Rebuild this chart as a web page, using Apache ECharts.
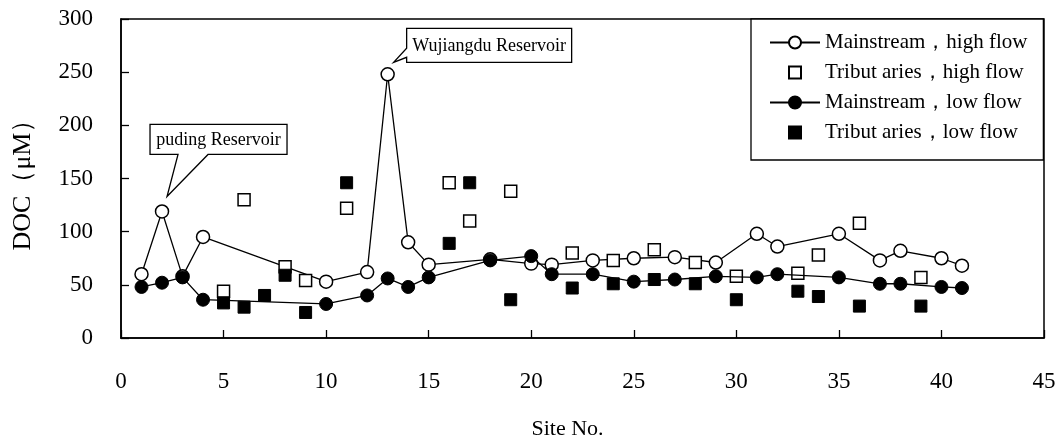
<!DOCTYPE html>
<html>
<head>
<meta charset="utf-8">
<script src="https://cdn.jsdelivr.net/npm/echarts@6/dist/echarts.min.js"></script>
<style>html,body{margin:0;padding:0;background:#fff}#c{width:1057px;height:438px}</style>
</head>
<body>
<div id="c"></div>
<script>
// ---- data ----
const mainSites = [1,2,3,4,10,12,13,14,15,18,20,21,23,25,27,29,31,32,35,37,38,40,41];
const mainHigh  = [60,119,58,95,53,62,248,90,69,74,70,69,73,75,76,71,98,86,98,73,82,75,68];
const mainLow   = [48,52,57,36,32,40,56,48,57,73,77,60,60,53,55,58,57,60,57,51,51,48,47];
const tribHighSites = [5,6,8,9,11,16,17,19,22,24,26,28,30,33,34,36,39];
const tribHigh      = [44,130,67,54,122,146,110,138,80,73,83,71,58,61,78,108,57];
const tribLowSites  = [5,6,7,8,9,11,16,17,19,22,24,26,28,30,33,34,36,39];
const tribLow       = [33,29,40,59,24,146,89,146,36,47,51,55,51,36,44,39,30,30];
const seriesNames = ['Mainstream，high flow','Tribut aries，high flow','Mainstream，low flow','Tribut aries，low flow'];
const callouts = [
  {text:'puding Reservoir', site:2, value:119},
  {text:'Wujiangdu Reservoir', site:13, value:248}
];
const xTitle = 'Site No.';
const yTitle = 'DOC（μM）';

const FONT = '"Liberation Serif", "Times New Roman", serif';
const pair = (xs, ys) => xs.map((x, i) => [x, ys[i]]);

const chart = echarts.init(document.getElementById('c'), null, {renderer:'canvas'});
const openStyle = {color:'#fff', borderColor:'#000', borderWidth:1.5};
const fillStyle = {color:'#000', borderColor:'#000', borderWidth:1};

chart.setOption({
  animation:false,
  backgroundColor:'#fff',
  grid:{left:121, right:13, top:19, bottom:100, show:true, borderColor:'#000', borderWidth:1.5,
        containLabel:false, outerBoundsMode:'none'},
  legend:{
    orient:'vertical', left:751, top:19,
    padding:[13,16,17,18],
    itemWidth:50, itemHeight:15, itemGap:9,
    borderColor:'#000', borderWidth:1.3, backgroundColor:'#fff',
    textStyle:{fontFamily:FONT, fontSize:21, color:'#000'},
    data:seriesNames
  },
  xAxis:{
    type:'value', min:0, max:45, interval:5,
    name:xTitle, nameLocation:'middle', nameGap:80,
    nameTextStyle:{fontFamily:FONT, fontSize:22, color:'#000', padding:[0,30,0,0]},
    axisLine:{lineStyle:{color:'#000', width:1.5}},
    axisTick:{inside:true, length:8, lineStyle:{color:'#000', width:1.3}},
    axisLabel:{fontFamily:FONT, fontSize:23, color:'#000', margin:32},
    splitLine:{show:false}
  },
  yAxis:{
    type:'value', min:0, max:300, interval:50,
    name:yTitle, nameLocation:'middle', nameGap:85, nameRotate:90,
    nameTextStyle:{fontFamily:FONT, fontSize:26, color:'#000'},
    axisLine:{lineStyle:{color:'#000', width:1.5}},
    axisTick:{inside:true, length:8, lineStyle:{color:'#000', width:1.3}},
    axisLabel:{fontFamily:FONT, fontSize:23, color:'#000', margin:28},
    splitLine:{show:false}
  },
  series:[
    {name:seriesNames[0], type:'line', data:pair(mainSites, mainHigh), symbol:'circle', symbolSize:13,
     itemStyle:openStyle, lineStyle:{color:'#000', width:1.3}, z:2},
    {name:seriesNames[1], type:'line', data:pair(tribHighSites, tribHigh), symbol:'rect', symbolSize:12,
     itemStyle:openStyle, lineStyle:{color:'#000', width:0, opacity:0}, z:3},
    {name:seriesNames[2], type:'line', data:pair(mainSites, mainLow), symbol:'circle', symbolSize:13,
     itemStyle:fillStyle, lineStyle:{color:'#000', width:1.3}, z:4},
    {name:seriesNames[3], type:'line', data:pair(tribLowSites, tribLow), symbol:'rect', symbolSize:12,
     itemStyle:fillStyle, lineStyle:{color:'#000', width:0, opacity:0}, z:5}
  ]
});

// callout boxes anchored to their data points
const p1 = chart.convertToPixel({gridIndex:0}, [callouts[0].site, callouts[0].value]);
const p2 = chart.convertToPixel({gridIndex:0}, [callouts[1].site, callouts[1].value]);
function box(p, L, R, T, B, wedge) {
  const x = p[0], y = p[1];
  return wedge(x, y, x+L, x+R, y+T, y+B);
}
const poly1 = box(p1, -12, 125, -87, -57, (x,y,l,r,t,b) => [[l,t],[r,t],[r,b],[x+46,b],[x+5,y-15],[x+16,b],[l,b]]);
const poly2 = box(p2, 19, 184, -46, -12, (x,y,l,r,t,b) => [[l,t],[r,t],[r,b],[l,b],[l,y-17],[x+6,y-12],[l,y-26]]);
function label(p, L, R, T, B, text) {
  return {type:'text', z:101, style:{text:text, x:p[0]+(L+R)/2, y:p[1]+(T+B)/2+1, align:'center', verticalAlign:'middle',
    font:'18px ' + FONT, fill:'#000'}};
}
chart.setOption({graphic:[
  {type:'polygon', z:100, shape:{points:poly1}, style:{fill:'#fff', stroke:'#000', lineWidth:1.3}},
  label(p1, -12, 125, -87, -57, callouts[0].text),
  {type:'polygon', z:100, shape:{points:poly2}, style:{fill:'#fff', stroke:'#000', lineWidth:1.3}},
  label(p2, 19, 184, -46, -12, callouts[1].text)
]});
</script>
</body>
</html>
